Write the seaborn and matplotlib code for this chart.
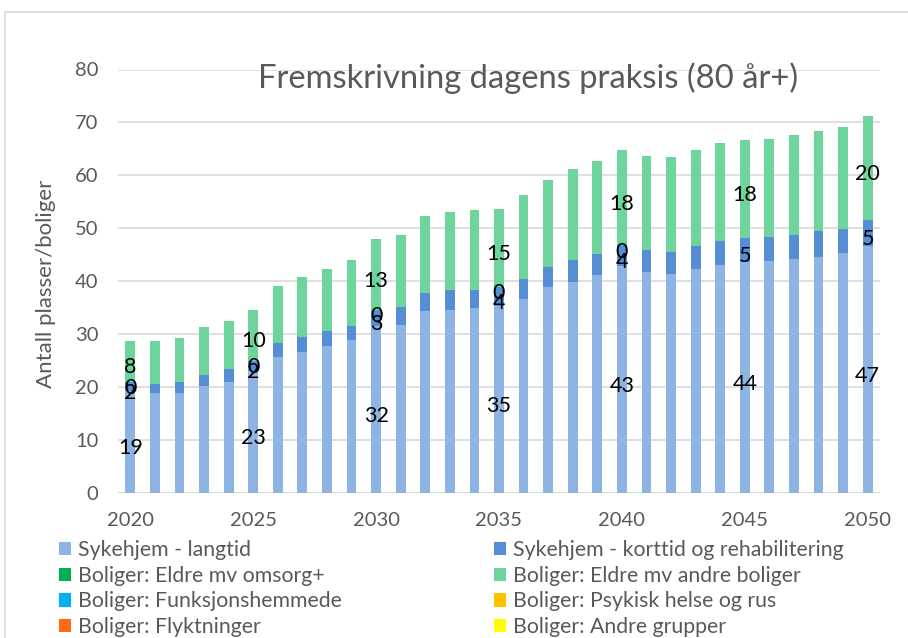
import matplotlib
matplotlib.use("Agg")
import matplotlib.pyplot as plt
from matplotlib.patches import Patch, Rectangle
from matplotlib.transforms import offset_copy
import seaborn as sns
import pandas as pd
import numpy as np

years = list(range(2020, 2051))
langtid = [19.2, 18.9, 18.9, 20.3, 21.0, 23.0, 25.7, 26.7, 27.8, 28.9,
           31.6, 31.7, 34.3, 34.6, 35.0, 35.3, 36.7, 38.9, 39.9, 41.1,
           42.8, 41.7, 41.4, 42.3, 43.1, 43.6, 43.8, 44.2, 44.6, 45.3, 46.7]
korttid = [1.8, 1.7, 2.1, 2.0, 2.4, 2.0, 2.7, 2.8, 2.8, 2.6,
           3.0, 3.5, 3.4, 3.8, 3.4, 3.7, 3.8, 3.8, 4.2, 4.1,
           4.0, 4.2, 4.2, 4.3, 4.5, 4.6, 4.5, 4.5, 4.8, 4.5, 4.9]
omsorg_pluss = [0.0] * 31
andre_boliger = [7.8, 8.2, 8.2, 9.0, 9.0, 9.6, 10.7, 11.3, 11.7, 12.6,
                 13.4, 13.5, 14.7, 14.6, 15.0, 14.7, 15.7, 16.4, 17.1, 17.5,
                 18.0, 17.8, 17.8, 18.2, 18.6, 18.4, 18.6, 18.9, 18.9, 19.3, 19.6]
funksjonshemmede = [0.0] * 31
psykisk = [0.0] * 31
flyktninger = [0.0] * 31
andre_grupper = [0.0] * 31

label_years = [2020, 2025, 2030, 2035, 2040, 2045, 2050]
zero_label_years = [2020, 2025, 2030, 2035, 2040]
tick_years = [2020, 2025, 2030, 2035, 2040, 2045, 2050]

series_names = ["Sykehjem - langtid", "Sykehjem - korttid og rehabilitering",
                "Boliger: Eldre mv omsorg+", "Boliger: Eldre mv andre boliger",
                "Boliger: Funksjonshemmede", "Boliger: Psykisk helse og rus",
                "Boliger: Flyktninger", "Boliger: Andre grupper"]
colors = ["#8EB4E3", "#558ED5", "#00B050", "#6DD49B",
          "#00B0F0", "#FFC000", "#FF6A13", "#FFFF00"]

title = "Fremskrivning dagens praksis (80 år+)"
ylabel = "Antall plasser/boliger"

sns.set_theme(style="white")
plt.rcParams["font.family"] = ["Lato", "DejaVu Sans"]
grey = "#595959"

df = pd.DataFrame({"year": [str(y) for y in years],
                   "langtid": langtid, "korttid": korttid,
                   "omsorg": omsorg_pluss, "andre": andre_boliger,
                   "funk": funksjonshemmede, "psyk": psykisk,
                   "flykt": flyktninger, "grupper": andre_grupper})
cols = ["langtid", "korttid", "omsorg", "andre", "funk", "psyk", "flykt", "grupper"]
cum = df[cols].cumsum(axis=1)

fig = plt.figure(figsize=(9.08, 6.38), dpi=100)
ax = fig.add_axes([118 / 908, 1 - 493 / 638, (880 - 118) / 908, (493 - 69.5) / 638])

order = [str(y) for y in years]
# draw cumulative layers from top to bottom
for i in range(len(cols) - 1, -1, -1):
    sns.barplot(x=df["year"], y=cum[cols[i]], order=order, color=colors[i],
                saturation=1, width=0.4, linewidth=0, ax=ax, zorder=3)

ax.set_ylim(0, 80)
ax.set_xlim(-0.5, len(years) - 0.5)
ax.set_yticks(range(0, 81, 10))
ax.yaxis.grid(True, color="#D9D9D9", linewidth=1.2, zorder=0)
ax.set_axisbelow(True)
for s in ax.spines.values():
    s.set_visible(False)
ax.axhline(0, color="#D9D9D9", linewidth=1.2, zorder=1)
ax.set_xticks([years.index(y) for y in tick_years])
ax.set_xticklabels([str(y) for y in tick_years])
ax.tick_params(axis="x", length=0, pad=14, labelsize=14.5, labelcolor=grey)
ax.tick_params(axis="y", length=0, pad=14, labelsize=14.5, labelcolor=grey)
ax.set_xlabel("")
ax.set_ylabel("")
fig.text(46 / 908, 1 - 284 / 638, ylabel, rotation=90, ha="center", va="center",
         fontsize=16, color=grey)

# data labels
trans = offset_copy(ax.transData, fig=fig, x=0, y=-4.5, units="points")
lab_kw = dict(ha="center", va="center", fontsize=15.5, color="black", zorder=5,
              transform=trans)
for y in label_years:
    i = years.index(y)
    lt, kt, an = langtid[i], korttid[i], andre_boliger[i]
    ax.text(i, lt / 2, f"{lt:.0f}", **lab_kw)
    ax.text(i, lt + kt / 2, f"{kt:.0f}", **lab_kw)
    if y in zero_label_years:
        ax.text(i, lt + kt + omsorg_pluss[i] / 2, f"{omsorg_pluss[i]:.0f}", **lab_kw)
    ax.text(i, lt + kt + omsorg_pluss[i] + an / 2, f"{an:.0f}", **lab_kw)

fig.text(528 / 908, 1 - 78 / 638, title, ha="center", va="center",
         fontsize=23.6, color=grey)

# legend in two columns
handles = [Patch(facecolor=c, edgecolor="none") for c in colors]
leg_kw = dict(frameon=False, fontsize=15.3, handlelength=0.58, handleheight=0.58,
              handletextpad=0.3, labelspacing=0.27, borderaxespad=0, borderpad=0)
l1 = fig.legend(handles[0::2], series_names[0::2], loc="upper left",
                bbox_to_anchor=(59 / 908, 1 - 540 / 638), **leg_kw)
l2 = fig.legend(handles[1::2], series_names[1::2], loc="upper left",
                bbox_to_anchor=(494 / 908, 1 - 540 / 638), **leg_kw)
for l in (l1, l2):
    for t in l.get_texts():
        t.set_color(grey)

# chart border
fig.patches.append(Rectangle((5 / 908, -0.1), 1.2, 1 - 11.5 / 638 + 0.1,
                             transform=fig.transFigure, fill=False,
                             edgecolor="#D9D9D9", linewidth=1.2))

fig.savefig("out.png", dpi=100)
